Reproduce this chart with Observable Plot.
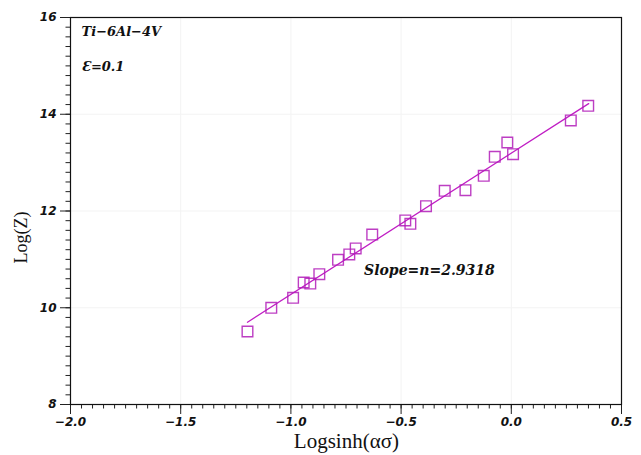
<!DOCTYPE html>
<html><head><meta charset="utf-8">
<script src="https://cdn.jsdelivr.net/npm/d3@7"></script>
<script src="https://cdn.jsdelivr.net/npm/@observablehq/plot@0.6"></script>
<style>body{margin:0;background:#fff}</style>
</head><body><div id="chart"></div>
<script>
const logsinh = [-1.197,-1.089,-0.990,-0.942,-0.912,-0.871,-0.786,-0.735,-0.706,-0.631,-0.481,-0.458,-0.387,-0.302,-0.208,-0.125,-0.075,-0.018,0.008,0.270,0.349];
const logZ    = [9.509,9.999,10.206,10.522,10.501,10.694,10.991,11.101,11.225,11.514,11.804,11.735,12.099,12.418,12.430,12.728,13.120,13.416,13.174,13.871,14.175];
const fitX = [-1.197, 0.351];
const fitY = [9.70, 14.22];
const xMajor = [-2.0,-1.5,-1.0,-0.5,0.0,0.5];
const yMajor = [8,10,12,14,16];
const xMinor = d3.range(-2.0, 0.5001, 0.05);
const yMinor = d3.range(8, 16.001, 0.2);
const notes = [
  {x:-1.95, y:15.71, t:"Ti\u22126Al\u22124V", s:13},
  {x:-1.95, y:14.99, t:"\u0190=0.1", s:13},
  {x:-0.668, y:10.77, t:"Slope=n=2.9318", s:14}
];
const xTitle = ["Logsinh(\u03B1\u03C3)"];
const yTitle = ["Log(Z)"];

const pts = logsinh.map((x,i)=>({x, y:logZ[i]}));
const fit = fitX.map((x,i)=>({x, y:fitY[i]}));
const fmt = d => (d<0?"\u2212":"") + Math.abs(d).toFixed(1);
const tickFont = {fontFamily:"'DejaVu Sans', sans-serif", fontSize:12, fontWeight:"bold", fontStyle:"italic"};

const chart = Plot.plot({
  width:641, height:455,
  marginLeft:70, marginRight:20, marginTop:17, marginBottom:51,
  x:{domain:[-2,0.5]},
  y:{domain:[8,16]},
  marks:[
    Plot.gridX(xMajor, {stroke:"#f3f3f3", strokeOpacity:1}),
    Plot.gridY(yMajor, {stroke:"#f3f3f3", strokeOpacity:1}),
    Plot.axisX(xMinor, {tickSize:4.5, text:null, label:null, stroke:"#222"}),
    Plot.axisY(yMinor, {tickSize:4.5, text:null, label:null, stroke:"#222"}),
    Plot.axisX(xMajor, {tickSize:10, tickPadding:3, tickFormat:fmt, label:null, stroke:"#222", fill:"#111", ...tickFont}),
    Plot.axisY(yMajor, {tickSize:10, tickPadding:4, tickFormat:d=>String(d), label:null, stroke:"#222", fill:"#111", ...tickFont}),
    Plot.frame({stroke:"#111", strokeWidth:1.2}),
    Plot.line(fit, {x:"x", y:"y", stroke:"#c01ec4", strokeWidth:1.3}),
    Plot.dot(pts, {x:"x", y:"y", symbol:"square", r:6, stroke:"#b21cb8", strokeWidth:1.4, strokeOpacity:0.85, fill:"none"}),
    Plot.text(notes, {x:"x", y:"y", text:"t", fontSize:"s", textAnchor:"start", fontFamily:"'DejaVu Serif', serif", fontWeight:"bold", fontStyle:"italic", fill:"#111"}),
    Plot.text(xTitle, {x:-0.748, y:7.24, fontFamily:"'Liberation Serif', 'Times New Roman', serif", fontSize:21, fill:"#111"}),
    Plot.text(yTitle, {x:-2.225, y:11.45, rotate:-90, fontFamily:"'Liberation Serif', 'Times New Roman', serif", fontSize:18, fill:"#111"})
  ]
});
document.getElementById("chart").appendChild(chart);
</script>
</body></html>
